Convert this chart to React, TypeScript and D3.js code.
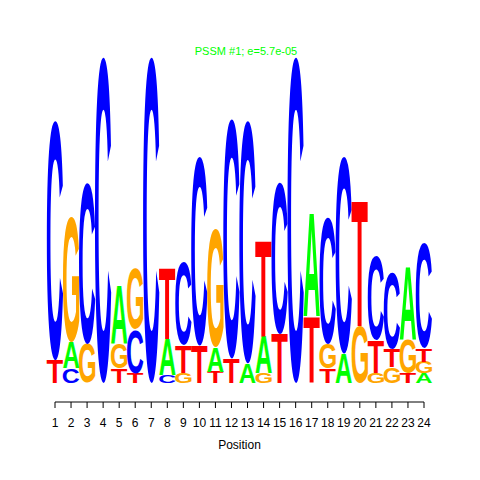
import React, { useMemo } from "react";
import * as d3 from "d3";

const positions = d3.range(1, 25);
const letters = ["A", "C", "G", "T"];
// information content (bits) of each letter at each position
const heightA = [0, 0.16, 0, 0, 0.36, 0, 0, 0.22, 0, 0, 0.15, 0, 0.12, 0.23, 0, 0, 0.64, 0, 0.18, 0, 0, 0, 0.45, 0.06];
const heightC = [1.47, 0.09, 0.99, 2.0, 0, 0.27, 2.0, 0.05, 0.51, 1.16, 0, 1.47, 1.49, 0, 0.93, 2.0, 0, 0.78, 1.21, 0, 0.52, 0.47, 0, 0.65];
const heightG = [0, 0.77, 0.24, 0, 0.15, 0.37, 0, 0, 0.06, 0, 0.73, 0, 0, 0.06, 0, 0, 0, 0.15, 0, 0.35, 0.06, 0.1, 0.21, 0.07];
const heightT = [0.14, 0, 0, 0, 0.09, 0.06, 0, 0.44, 0.17, 0.23, 0.07, 0.15, 0, 0.59, 0.3, 0, 0.41, 0.09, 0, 0.77, 0.2, 0.11, 0.06, 0.08];
const tickLabels = positions.map(String);
const title = "PSSM #1; e=5.7e-05";
const xLabel = "Position";

const colors: Record<string, string> = { A: "#00FF00", C: "#0000FF", G: "#FFA500", T: "#FF0000" };
const FONT = "'Liberation Sans', Arial, Helvetica, sans-serif";

function measure(letter: string) {
  const fallback = { left: -4, right: 70, asc: 73, desc: 1 };
  try {
    const c = document.createElement("canvas");
    const ctx = c.getContext("2d");
    if (!ctx) return fallback;
    ctx.font = `bold 100px ${FONT}`;
    const m = ctx.measureText(letter);
    const r = {
      left: m.actualBoundingBoxLeft,
      right: m.actualBoundingBoxRight,
      asc: m.actualBoundingBoxAscent,
      desc: m.actualBoundingBoxDescent,
    };
    if (!(r.asc > 0) || !(r.left + r.right > 0)) return fallback;
    return r;
  } catch (e) {
    return fallback;
  }
}

export default function App() {
  const metrics = useMemo(() => {
    const o: Record<string, any> = {};
    letters.forEach((l) => (o[l] = measure(l)));
    return o;
  }, []);

  const x = d3.scaleLinear().domain([1, 24]).range([55, 424]);
  const y = d3.scaleLinear().domain([0, 2]).range([383, 57]);
  const colW = x(2) - x(1);
  const letterW = colW * 1.02;

  const series: Record<string, number[]> = { A: heightA, C: heightC, G: heightG, T: heightT };

  const glyphs: any[] = [];
  positions.forEach((p, i) => {
    const stack = letters
      .map((l) => ({ l, h: series[l][i] }))
      .filter((d) => d.h > 0)
      .sort((a, b) => a.h - b.h);
    let cum = 0;
    stack.forEach((d) => {
      const bottom = y(cum);
      const top = y(cum + d.h);
      cum += d.h;
      const m = metrics[d.l];
      const inkW = m.left + m.right;
      const inkH = m.asc + m.desc;
      const sx = letterW / inkW;
      const sy = (bottom - top) / inkH;
      const bx = x(p) - letterW / 2;
      glyphs.push(
        <text
          key={`${p}-${d.l}`}
          transform={`translate(${bx},${bottom}) scale(${sx},${sy}) translate(${m.left},${-m.desc})`}
          fontFamily={FONT}
          fontWeight="bold"
          fontSize={100}
          fill={colors[d.l]}
        >
          {d.l}
        </text>
      );
    });
  });

  const axisY = 402;

  return (
    <svg
      width={480}
      height={480}
      style={{ position: "absolute", left: 0, top: 0, display: "block", background: "#fff" }}
    >
      <rect width={480} height={480} fill="#fff" />
      <text x={246} y={55} textAnchor="middle" fontFamily={FONT} fontSize={11} fill="#00FF00">
        {title}
      </text>
      {glyphs}
      <line x1={x(1)} x2={x(24)} y1={axisY} y2={axisY} stroke="#000" strokeWidth={1} />
      {positions.map((p, i) => (
        <g key={p}>
          <line x1={x(p)} x2={x(p)} y1={axisY} y2={axisY + 6} stroke="#000" strokeWidth={1} />
          <text x={x(p)} y={427} textAnchor="middle" fontFamily={FONT} fontSize={12} fill="#000">
            {tickLabels[i]}
          </text>
        </g>
      ))}
      <text x={239.5} y={449} textAnchor="middle" fontFamily={FONT} fontSize={12} fill="#000">
        {xLabel}
      </text>
    </svg>
  );
}
